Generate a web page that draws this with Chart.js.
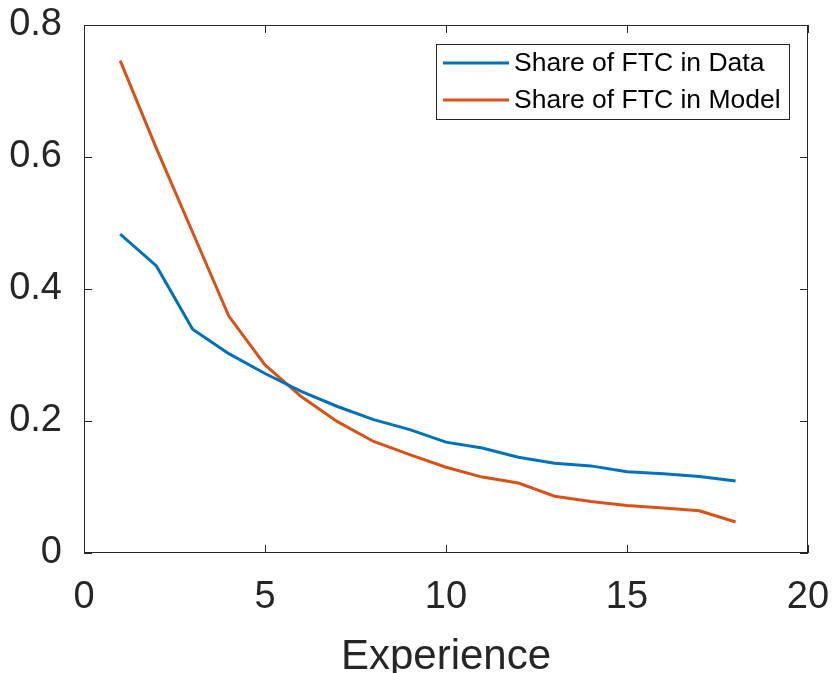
<!DOCTYPE html>
<html>
<head>
<meta charset="utf-8">
<script src="https://cdn.jsdelivr.net/npm/chart.js@4"></script>
<style>
    html, body { margin: 0; padding: 0; background: #fff; }
    #wrap { width: 833px; height: 673px; }
</style>
</head>
<body>
<div id="wrap"><canvas id="chart" width="833" height="673"></canvas></div>
<script>
// Data
const experience = [1, 2, 3, 4, 5, 6, 7, 8, 9, 10, 11, 12, 13, 14, 15, 16, 17, 18];
const shareData = [0.483, 0.435, 0.339, 0.302, 0.272, 0.245, 0.222, 0.202, 0.187, 0.168, 0.159, 0.145, 0.136, 0.132, 0.123, 0.120, 0.116, 0.109];
const shareModel = [0.746, 0.613, 0.486, 0.359, 0.285, 0.237, 0.199, 0.169, 0.149, 0.130, 0.115, 0.106, 0.086, 0.078, 0.072, 0.068, 0.064, 0.047];
const seriesLabels = ["Share of FTC in Data", "Share of FTC in Model"];
const seriesColors = ["#0072BD", "#D95319"];
const xTicks = [0, 5, 10, 15, 20];
const yTicks = [0, 0.2, 0.4, 0.6, 0.8];

const FONT = "'Liberation Sans', Arial, Helvetica, sans-serif";
const AXIS_COLOR = "#262626";

function toPoints(values) {
    return experience.map((x, i) => ({ x: x, y: values[i] }));
}

// ----------------------
// Box, inward ticks and legend (MATLAB style)
// ----------------------
const matlabFrame = {
    id: "matlabFrame",
    afterDraw(chart) {
        const ctx = chart.ctx;
        const area = chart.chartArea;
        const xs = chart.scales.x;
        const ys = chart.scales.y;
        const tick = 8;

        ctx.save();
        ctx.strokeStyle = AXIS_COLOR;
        ctx.lineWidth = 1;
        ctx.strokeRect(Math.round(area.left) + 0.5, Math.round(area.top) + 0.5,
            Math.round(area.right - area.left) - 1, Math.round(area.bottom - area.top) - 1);

        ctx.beginPath();
        xTicks.forEach(v => {
            const px = Math.round(xs.getPixelForValue(v)) + 0.5;
            ctx.moveTo(px, area.bottom);
            ctx.lineTo(px, area.bottom - tick);
            ctx.moveTo(px, area.top);
            ctx.lineTo(px, area.top + tick);
        });
        yTicks.forEach(v => {
            const py = Math.round(ys.getPixelForValue(v)) + 0.5;
            ctx.moveTo(area.left, py);
            ctx.lineTo(area.left + tick, py);
            ctx.moveTo(area.right, py);
            ctx.lineTo(area.right - tick, py);
        });
        ctx.stroke();

        // legend box
        const lx = 436, ly = 44, lw = 353, lh = 75;
        ctx.fillStyle = "#fff";
        ctx.fillRect(lx, ly, lw, lh);
        ctx.strokeStyle = AXIS_COLOR;
        ctx.strokeRect(lx + 0.5, ly + 0.5, lw, lh);

        ctx.font = "26.5px " + FONT;
        ctx.textBaseline = "middle";
        ctx.textAlign = "left";
        chart.data.datasets.forEach((ds, i) => {
            const rowY = ly + 19 + i * 37;
            ctx.strokeStyle = ds.borderColor;
            ctx.lineWidth = 3;
            ctx.beginPath();
            ctx.moveTo(443, rowY);
            ctx.lineTo(509, rowY);
            ctx.stroke();
            ctx.fillStyle = "#000";
            ctx.fillText(ds.label, 514, rowY + 1);
        });
        ctx.restore();
    }
};

new Chart(document.getElementById("chart").getContext("2d"), {
    type: "line",
    data: {
        datasets: [
            {
                label: seriesLabels[0],
                data: toPoints(shareData),
                borderColor: seriesColors[0],
                borderWidth: 3,
                pointRadius: 0,
                tension: 0,
                fill: false
            },
            {
                label: seriesLabels[1],
                data: toPoints(shareModel),
                borderColor: seriesColors[1],
                borderWidth: 3,
                pointRadius: 0,
                tension: 0,
                fill: false
            }
        ]
    },
    options: {
        responsive: false,
        animation: false,
        layout: { padding: { top: 25, right: 25, left: 0, bottom: 0 } },
        plugins: {
            legend: { display: false },
            tooltip: { enabled: false }
        },
        scales: {
            x: {
                type: "linear",
                min: 0,
                max: 20,
                grid: { display: false },
                border: { display: false },
                afterBuildTicks: (scale) => { scale.ticks = xTicks.map(v => ({ value: v })); },
                ticks: {
                    color: AXIS_COLOR,
                    font: { family: FONT, size: 38 },
                    padding: 14,
                    maxRotation: 0,
                    callback: (v) => String(v)
                },
                title: {
                    display: true,
                    text: "Experience",
                    color: AXIS_COLOR,
                    font: { family: FONT, size: 42, lineHeight: 0.75 },
                    padding: { top: 0, bottom: 0 }
                },
                afterFit: (scale) => {
                    scale.height = 120;
                    scale.paddingLeft = 0;
                    scale.paddingRight = 0;
                }
            },
            y: {
                min: 0,
                max: 0.8,
                grid: { display: false },
                border: { display: false },
                afterBuildTicks: (scale) => { scale.ticks = yTicks.map(v => ({ value: v })); },
                ticks: {
                    color: AXIS_COLOR,
                    font: { family: FONT, size: 38 },
                    padding: 14,
                    callback: (v) => String(Number(v.toFixed(1)))
                },
                afterFit: (scale) => {
                    scale.width = 84;
                    scale.paddingTop = 0;
                    scale.paddingBottom = 0;
                }
            }
        }
    },
    plugins: [matlabFrame]
});
</script>
</body>
</html>
